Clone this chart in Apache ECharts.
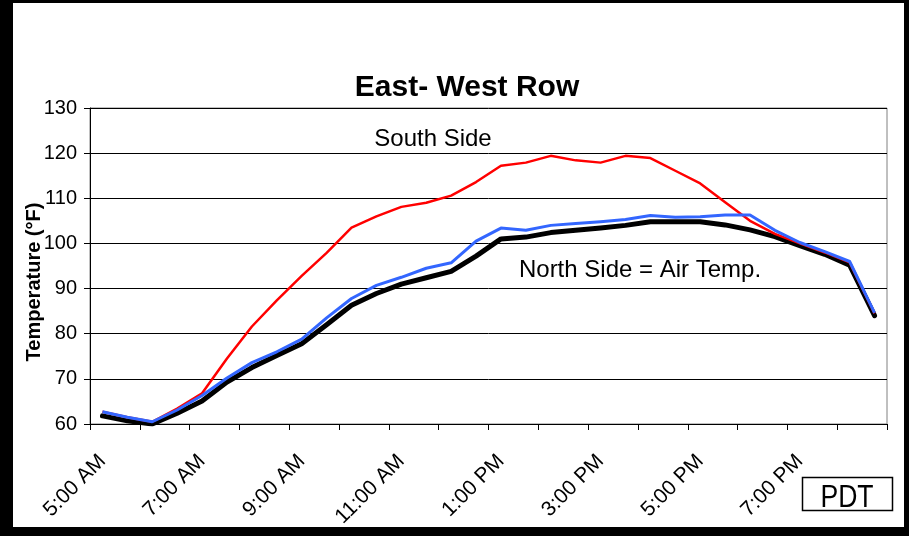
<!DOCTYPE html>
<html>
<head>
<meta charset="utf-8">
<script src="https://cdn.jsdelivr.net/npm/echarts@6/dist/echarts.min.js"></script>
<style>
  html, body { margin: 0; padding: 0; background: #fff; }
  #chart { width: 909px; height: 536px; }
</style>
</head>
<body>
<div id="chart"></div>
<script>
// Half-hourly readings, Pacific Daylight Time
const times = [
  '5:00 AM', '5:30 AM', '6:00 AM', '6:30 AM', '7:00 AM', '7:30 AM', '8:00 AM', '8:30 AM',
  '9:00 AM', '9:30 AM', '10:00 AM', '10:30 AM', '11:00 AM', '11:30 AM', '12:00 PM', '12:30 PM',
  '1:00 PM', '1:30 PM', '2:00 PM', '2:30 PM', '3:00 PM', '3:30 PM', '4:00 PM', '4:30 PM',
  '5:00 PM', '5:30 PM', '6:00 PM', '6:30 PM', '7:00 PM', '7:30 PM', '8:00 PM', '8:30 PM'
];

// Temperatures in °F
const southSide = [
  62.7, 61.5, 60.5, 63.4, 66.8, 74.5, 81.6, 87.4,
  92.8, 97.9, 103.5, 106.0, 108.1, 109.0, 110.6, 113.6,
  117.2, 117.9, 119.4, 118.4, 117.9, 119.4, 118.9, 116.1,
  113.3, 109.1, 105.0, 102.1, 100.0, 98.0, 95.8, 84.5
];
const northSide = [
  62.7, 61.5, 60.5, 63.1, 66.3, 70.2, 73.6, 76.0,
  78.8, 83.5, 87.8, 90.7, 92.5, 94.5, 95.7, 100.5,
  103.4, 102.9, 104.0, 104.4, 104.8, 105.3, 106.2, 105.8,
  105.9, 106.3, 106.3, 102.9, 100.2, 98.2, 96.0, 84.6
];
const airTemp = [
  61.8, 60.7, 60.0, 62.4, 65.1, 69.3, 72.5, 75.2,
  77.8, 82.0, 86.3, 88.9, 91.0, 92.4, 93.8, 97.2,
  101.0, 101.4, 102.4, 102.9, 103.4, 104.0, 104.8, 104.8,
  104.8, 104.1, 103.0, 101.5, 99.5, 97.6, 95.2, 84.0
];

const yTicks = { min: 60, max: 130, step: 10 };

const FONT = '"Liberation Sans", Arial, sans-serif';

const chart = echarts.init(document.getElementById('chart'), null, { renderer: 'canvas' });

chart.setOption({
  animation: false,
  backgroundColor: '#ffffff',
  grid: {
    left: 90, right: 22, top: 108, bottom: 112,
    show: true, borderColor: '#808080', borderWidth: 1, backgroundColor: '#ffffff'
  },
  xAxis: {
    type: 'category',
    data: times,
    boundaryGap: true,
    axisLine: { show: true, lineStyle: { color: '#000', width: 1 } },
    axisTick: { show: true, interval: 1, length: 6, lineStyle: { color: '#000', width: 1 } },
    axisLabel: {
      interval: 3, rotate: 45, margin: 34,
      fontFamily: FONT, fontSize: 21, color: '#000'
    },
    splitLine: { show: false }
  },
  yAxis: {
    type: 'value',
    min: yTicks.min, max: yTicks.max, interval: yTicks.step,
    axisLine: { show: true, lineStyle: { color: '#000', width: 1 } },
    axisTick: { show: true, length: 6, lineStyle: { color: '#000', width: 1 } },
    axisLabel: { margin: 13, fontFamily: FONT, fontSize: 20, color: '#000' },
    splitLine: { show: true, lineStyle: { color: '#000', width: 1 } }
  },
  series: [
    {
      name: 'Air Temp.', type: 'line', data: airTemp, symbol: 'none', z: 2,
      lineStyle: { color: '#000000', width: 5, cap: 'round', join: 'round' }
    },
    {
      name: 'South Side', type: 'line', data: southSide, symbol: 'none', z: 3,
      lineStyle: { color: '#ff0000', width: 2.5, join: 'round' }
    },
    {
      name: 'North Side', type: 'line', data: northSide, symbol: 'none', z: 4,
      lineStyle: { color: '#3366ff', width: 3, join: 'round' }
    }
  ],
  graphic: [
    // outer black frame
    { type: 'rect', shape: { x: 0, y: 0, width: 13, height: 536 }, style: { fill: '#000' }, z: 100 },
    { type: 'rect', shape: { x: 0, y: 0, width: 909, height: 3 }, style: { fill: '#000' }, z: 100 },
    { type: 'rect', shape: { x: 904, y: 0, width: 5, height: 536 }, style: { fill: '#000' }, z: 100 },
    { type: 'rect', shape: { x: 0, y: 527, width: 909, height: 9 }, style: { fill: '#000' }, z: 100 },
    // title
    {
      type: 'text', x: 467, y: 88, z: 50,
      style: { text: 'East- West Row', font: 'bold 30px ' + FONT, fill: '#000', align: 'center', verticalAlign: 'middle' }
    },
    // y-axis title
    {
      type: 'text', x: 34, y: 282, rotation: Math.PI / 2, z: 50,
      style: { text: 'Temperature (°F)', font: 'bold 20px ' + FONT, fill: '#000', align: 'center', verticalAlign: 'middle' }
    },
    // series annotations
    {
      type: 'text', x: 433, y: 139.5, z: 50,
      style: { text: 'South Side', font: '24px ' + FONT, fill: '#000', align: 'center', verticalAlign: 'middle' }
    },
    {
      type: 'text', x: 640, y: 270.5, z: 50,
      style: { text: 'North Side = Air Temp.', font: '24px ' + FONT, fill: '#000', align: 'center', verticalAlign: 'middle' }
    },
    // time-zone box
    {
      type: 'rect', shape: { x: 802.5, y: 477.5, width: 90, height: 33 }, z: 50,
      style: { fill: '#fff', stroke: '#000', lineWidth: 1.5 }
    },
    {
      type: 'text', x: 847, y: 498, scaleX: 0.83, z: 51,
      style: { text: 'PDT', font: '32px ' + FONT, fill: '#000', align: 'center', verticalAlign: 'middle' }
    }
  ]
});
</script>
</body>
</html>
